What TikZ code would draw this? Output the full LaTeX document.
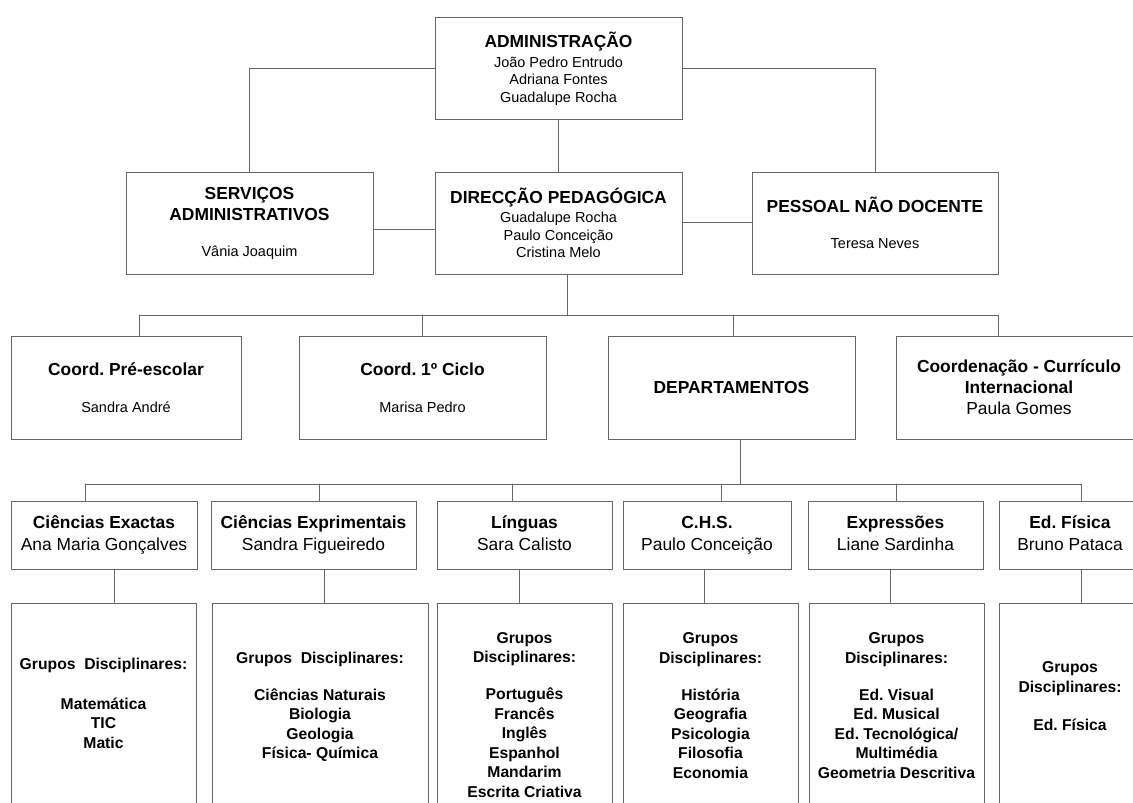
\documentclass[tikz,border=0pt]{standalone}
\usepackage{fontspec}
\setmainfont{Liberation Sans}
\usepackage{tikz}

\newcommand\titfont{\fontsize{17.4}{20}\selectfont\bfseries}
\newcommand\nomfont{\fontsize{14.5}{17.5}\selectfont}
\newcommand\depfont{\fontsize{17.4}{22}\selectfont}
\newcommand\grpfont{\fontsize{15.7}{19.5}\selectfont\bfseries}
\frenchspacing

\begin{document}
\begin{tikzpicture}[x=1pt,y=-1pt,line cap=round]
	\tikzstyle{caixa}=[draw=black!60,line width=1pt,fill=white,rectangle,inner sep=2pt,align=center];
	\tikzstyle{topo}=[caixa,minimum width=247pt,minimum height=102pt,font=\nomfont];
	\tikzstyle{dpt}=[caixa,minimum height=68pt,font=\depfont];
	\tikzstyle{grupo}=[caixa,minimum height=208pt];
	\tikzstyle{lista}=[align=center,font=\grpfont,inner sep=0pt];
	\tikzstyle{ligacao}=[draw=black!60,line width=1pt];

	\useasboundingbox (0,0) rectangle (1133,803);

	\node[topo] (adm) at (558.5,68.5) {{\titfont ADMINISTRAÇÃO}\\[2.5pt] João Pedro Entrudo\\ Adriana Fontes\\ Guadalupe Rocha};
	\node[topo] (serv) at (249.5,223) {{\titfont SERVIÇOS}\\[3.5pt] {\titfont ADMINISTRATIVOS}\\[18.5pt] Vânia Joaquim};
	\node[topo] (dir) at (558.5,223) {{\titfont DIRECÇÃO PEDAGÓGICA}\\[1.5pt] Guadalupe Rocha\\ Paulo Conceição\\ Cristina Melo};
	\node[topo,minimum width=246pt] (pes) at (875,223) {{\titfont PESSOAL NÃO DOCENTE}\\[18.5pt] Teresa Neves};

	\node[topo,minimum width=230pt,minimum height=103pt] (pre) at (126,387.5) {{\titfont Coord. Pré-escolar}\\[19.5pt] Sandra André};
	\node[topo,minimum height=103pt] (cic) at (422.5,387.5) {{\titfont Coord. 1º Ciclo}\\[19.5pt] Marisa Pedro};
	\node[topo,minimum height=103pt] (dep) at (731.5,387.5) {{\titfont DEPARTAMENTOS}};
	\node[topo,minimum width=246pt,minimum height=103pt,font=\depfont] (cci) at (1019,387.5) {\textbf{Coordenação - Currículo}\\[-1pt] \textbf{Internacional}\\[-1pt] Paula Gomes};

	\node[dpt,minimum width=186pt] (cex) at (104,535) {\strut\textbf{Ciências Exactas}\\ Ana Maria Gonçalves\strut};
	\node[dpt,minimum width=205pt] (cxp) at (313.5,535) {\strut\textbf{Ciências Exprimentais}\\ Sandra Figueiredo\strut};
	\node[dpt,minimum width=175pt] (lin) at (524.5,535) {\strut\textbf{Línguas}\\ Sara Calisto\strut};
	\node[dpt,minimum width=168pt] (chs) at (707,535) {\strut\textbf{C.H.S.}\\ Paulo Conceição\strut};
	\node[dpt,minimum width=175pt] (exp) at (895.5,535) {\strut\textbf{Expressões}\\ Liane Sardinha\strut};
	\node[dpt,minimum width=142pt] (edf) at (1070,535) {\strut\textbf{Ed. Física}\\ Bruno Pataca\strut};

	\node[grupo,minimum width=185pt] (g1) at (103.5,707) {};
	\node[grupo,minimum width=216pt] (g2) at (320,707) {};
	\node[grupo,minimum width=175pt] (g3) at (524.5,707) {};
	\node[grupo,minimum width=175pt] (g4) at (710.5,707) {};
	\node[grupo,minimum width=175pt] (g5) at (896.5,707) {};
	\node[grupo,minimum width=142pt] (g6) at (1070,707) {};

	\node[lista] (t1) at (103.5,705) {\strut Grupos\ \ Disciplinares:\\[20.5pt] Matemática\\ TIC\\ Matic\strut};
	\node[lista] (t2) at (320,707) {\strut Grupos\ \ Disciplinares:\\[17.5pt] Ciências Naturais\\ Biologia\\ Geologia\\ Física- Química\strut};
	\node[lista] (t3) at (524.5,716.5) {\strut Grupos\\ Disciplinares:\\[17.5pt] Português\\ Francês\\ Inglês\\ Espanhol\\ Mandarim\\ Escrita Criativa\strut};
	\node[lista] (t4) at (710.5,707) {\strut Grupos\\ Disciplinares:\\[17.5pt] História\\ Geografia\\ Psicologia\\ Filosofia\\ Economia\strut};
	\node[lista] (t5) at (896.5,707) {\strut Grupos\\ Disciplinares:\\[17.5pt] Ed. Visual\\ Ed. Musical\\ Ed. Tecnológica/\\ Multimédia\\ Geometria Descritiva\strut};
	\node[lista] (t6) at (1070,697.5) {\strut Grupos\\ Disciplinares:\\[18.5pt] Ed. Física\strut};

	\draw[ligacao] (adm.west) -| (serv.north);
	\draw[ligacao] (adm.east) -| (pes.north);
	\draw[ligacao] (adm.south) -- (dir.north);
	\draw[ligacao] ([yshift=-6.5pt]serv.east) -- ([yshift=-6.5pt]dir.west);
	\draw[ligacao] ([yshift=1pt]dir.east) -- ([yshift=1pt]pes.west);

	\coordinate (barra1) at (567,315);
	\coordinate (p1) at (139,315);
	\coordinate (p2) at (422,315);
	\coordinate (p3) at (733,315);
	\coordinate (p4) at (998,315);
	\draw[ligacao] (dir.south -| barra1) -- (barra1);
	\draw[ligacao] (p1) -- (p4);
	\draw[ligacao] (p1) -- (pre.north -| p1);
	\draw[ligacao] (p2) -- (cic.north -| p2);
	\draw[ligacao] (p3) -- (dep.north -| p3);
	\draw[ligacao] (p4) -- (cci.north -| p4);

	\coordinate (barra2) at (740,484);
	\coordinate (q1) at (85,484);
	\coordinate (q2) at (319,484);
	\coordinate (q3) at (512,484);
	\coordinate (q4) at (721,484);
	\coordinate (q5) at (896,484);
	\coordinate (q6) at (1081,484);
	\draw[ligacao] (dep.south -| barra2) -- (barra2);
	\draw[ligacao] (q1) -- (q6);
	\draw[ligacao] (q1) -- (cex.north -| q1);
	\draw[ligacao] (q2) -- (cxp.north -| q2);
	\draw[ligacao] (q3) -- (lin.north -| q3);
	\draw[ligacao] (q4) -- (chs.north -| q4);
	\draw[ligacao] (q5) -- (exp.north -| q5);
	\draw[ligacao] (q6) -- (edf.north -| q6);

	\coordinate (r1) at (114,590);
	\coordinate (r2) at (324,590);
	\coordinate (r3) at (519,590);
	\coordinate (r4) at (704,590);
	\coordinate (r5) at (890,590);
	\coordinate (r6) at (1081,590);
	\draw[ligacao] (cex.south -| r1) -- (g1.north -| r1);
	\draw[ligacao] (cxp.south -| r2) -- (g2.north -| r2);
	\draw[ligacao] (lin.south -| r3) -- (g3.north -| r3);
	\draw[ligacao] (chs.south -| r4) -- (g4.north -| r4);
	\draw[ligacao] (exp.south -| r5) -- (g5.north -| r5);
	\draw[ligacao] (edf.south -| r6) -- (g6.north -| r6);
\end{tikzpicture}
\end{document}
